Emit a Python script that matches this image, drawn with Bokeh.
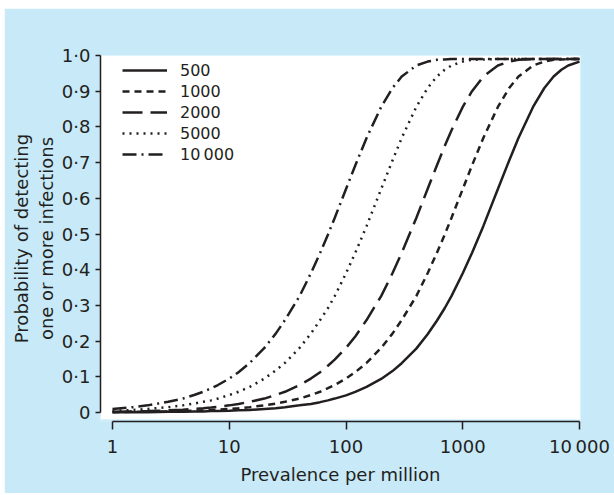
from bokeh.plotting import figure
from bokeh.models import FixedTicker, CustomJSTickFormatter, BoxAnnotation, Range1d
from bokeh.embed import file_html
from bokeh.resources import INLINE

# ---- data ----
prevalence = [1, 1.5, 2, 3, 4, 5, 6, 7, 8, 10,
              12, 15, 20, 25, 30, 40, 50, 60, 70, 80,
              100, 120, 150, 200, 250, 300, 400, 500, 600, 700,
              800, 1000, 1200, 1500, 2000, 2500, 3000, 4000, 5000, 6000,
              7000, 8000, 10000]
p500 = [0.001, 0.001, 0.001, 0.002, 0.002, 0.003, 0.003, 0.004, 0.004, 0.005,
        0.006, 0.007, 0.010, 0.012, 0.015, 0.020, 0.024, 0.029, 0.034, 0.039,
        0.048, 0.058, 0.072, 0.094, 0.116, 0.138, 0.179, 0.219, 0.257, 0.292,
        0.326, 0.390, 0.447, 0.522, 0.626, 0.706, 0.769, 0.856, 0.909, 0.941,
        0.960, 0.972, 0.983]
p1000 = [0.001, 0.002, 0.002, 0.003, 0.004, 0.005, 0.006, 0.007, 0.008, 0.010,
         0.012, 0.015, 0.020, 0.025, 0.030, 0.039, 0.049, 0.058, 0.068, 0.077,
         0.095, 0.113, 0.139, 0.181, 0.221, 0.259, 0.326, 0.390, 0.447, 0.498,
         0.545, 0.626, 0.692, 0.769, 0.856, 0.909, 0.941, 0.972, 0.983, 0.988,
         0.989, 0.990, 0.990]
p2000 = [0.002, 0.003, 0.004, 0.006, 0.008, 0.010, 0.012, 0.014, 0.016, 0.020,
         0.024, 0.030, 0.039, 0.049, 0.058, 0.077, 0.095, 0.113, 0.131, 0.148,
         0.181, 0.213, 0.259, 0.326, 0.390, 0.447, 0.545, 0.626, 0.692, 0.746,
         0.790, 0.856, 0.900, 0.941, 0.972, 0.983, 0.988, 0.990, 0.990, 0.990,
         0.990, 0.990, 0.990]
p5000 = [0.005, 0.007, 0.010, 0.015, 0.020, 0.025, 0.030, 0.034, 0.039, 0.049,
         0.058, 0.072, 0.095, 0.118, 0.139, 0.181, 0.221, 0.259, 0.292, 0.326,
         0.390, 0.447, 0.522, 0.626, 0.706, 0.769, 0.856, 0.909, 0.941, 0.960,
         0.972, 0.983, 0.988, 0.989, 0.990, 0.990, 0.990, 0.990, 0.990, 0.990,
         0.990, 0.990, 0.990]
p10000 = [0.010, 0.015, 0.020, 0.030, 0.039, 0.049, 0.058, 0.068, 0.077, 0.095,
          0.113, 0.139, 0.181, 0.221, 0.259, 0.326, 0.390, 0.447, 0.498, 0.545,
          0.626, 0.692, 0.769, 0.856, 0.909, 0.941, 0.972, 0.983, 0.988, 0.989,
          0.990, 0.990, 0.990, 0.990, 0.990, 0.990, 0.990, 0.990, 0.990, 0.990,
          0.990, 0.990, 0.990]
series_labels = ["500", "1000", "2000", "5000", "10\u2009000"]
x_ticks = [1, 10, 100, 1000, 10000]
y_ticks = [0, 0.1, 0.2, 0.3, 0.4, 0.5, 0.6, 0.7, 0.8, 0.9, 1.0]

BLUE = "#c7e9f8"
INK = "#231f20"
FONT = "DejaVu Sans"

p = figure(width=610, height=485, x_axis_type="log",
           x_range=Range1d(0.789, 10199), y_range=Range1d(-0.0252, 1.0),
           output_backend="svg", toolbar_location=None,
           margin=(8, 0, 0, 4),
           min_border_left=96, min_border_right=34, min_border_top=47, min_border_bottom=72,
           background_fill_color=BLUE, border_fill_color=BLUE, outline_line_color=None)
p.grid.visible = False

p.add_layout(BoxAnnotation(bottom=-0.0196, fill_color="white", fill_alpha=1.0,
                           line_color=None, level="underlay"))

dashes = ["solid", "7 5", "20 8", "2 5", "14 5 2 5"]
for ys, lab, d in zip([p500, p1000, p2000, p5000, p10000], series_labels, dashes):
    p.line(prevalence, ys, line_color=INK, line_width=2.5, line_dash=d, legend_label=lab)

# axes
xa = p.xaxis[0]
xa.ticker = FixedTicker(ticks=x_ticks, minor_ticks=[])
xa.formatter = CustomJSTickFormatter(code="return tick >= 10000 ? '10\u2009000' : String(tick);")
xa.bounds = (1, 10000)
xa.axis_label = "Prevalence per million"
ya = p.yaxis[0]
ya.ticker = FixedTicker(ticks=y_ticks, minor_ticks=[])
ya.formatter = CustomJSTickFormatter(code="return tick == 0 ? '0' : tick.toFixed(1).replace('.', '\u00b7');")
ya.bounds = (0, 1)
ya.axis_label = "Probability of detecting\none or more infections"

for ax in (xa, ya):
    ax.axis_line_color = INK
    ax.axis_line_width = 1.5
    ax.major_tick_line_color = INK
    ax.major_tick_line_width = 1.5
    ax.major_tick_in = 0
    ax.minor_tick_line_color = None
    ax.major_label_text_font = FONT
    ax.major_label_text_font_size = "18px"
    ax.major_label_text_color = INK
    ax.axis_label_text_font = FONT
    ax.axis_label_text_font_size = "18px"
    ax.axis_label_text_font_style = "normal"
    ax.axis_label_text_color = INK
xa.major_tick_out = 8
xa.major_label_standoff = 6
xa.axis_label_standoff = 4
ya.major_tick_out = 5
ya.major_label_standoff = 5
ya.axis_label_standoff = 2

lg = p.legend[0]
lg.location = (22, 257)
lg.margin = 0
lg.padding = 0
lg.spacing = 1
lg.glyph_width = 45
lg.glyph_height = 20
lg.label_height = 20
lg.label_standoff = 13
lg.label_text_font = FONT
lg.label_text_font_size = "16px"
lg.label_text_color = INK
lg.border_line_color = None
lg.background_fill_alpha = 0

open("out.html", "w").write(file_html(p, INLINE))
